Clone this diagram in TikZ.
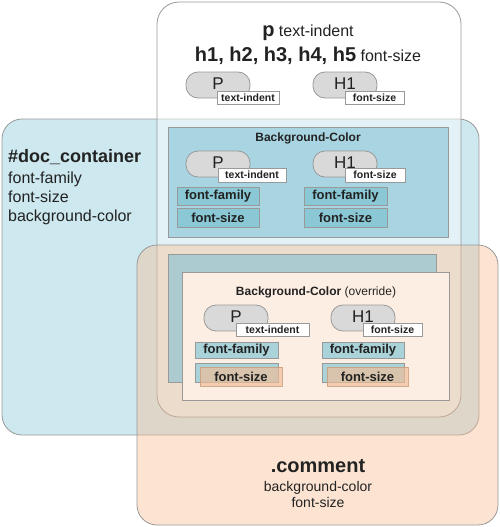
\documentclass[tikz,border=0pt]{standalone}
\usepackage{fontspec}
\setmainfont{Liberation Sans}
\definecolor{bordergray}{HTML}{999999}
\definecolor{docblue}{HTML}{CDE8EF}
\definecolor{bgblue}{HTML}{A8D5E1}
\definecolor{ffblue}{HTML}{8BC8D6}
\definecolor{pillgray}{HTML}{D9D9D9}
\definecolor{commentorange}{HTML}{F9BB8E}
\definecolor{tealshadow}{HTML}{ACCBD0}
\definecolor{overridepeach}{HTML}{FDEEE3}
\definecolor{ffteal}{HTML}{A9D3D9}
\definecolor{fsorange}{HTML}{F0BD97}
\definecolor{fsorangeborder}{HTML}{C89A78}
\definecolor{textdark}{HTML}{222222}
\newcommand{\fsz}[1]{\fontsize{#1}{#1}\selectfont}
\begin{document}
\begin{tikzpicture}[x=1pt,y=-1pt,
  frame/.style={draw=bordergray, line width=0.8pt},
  pill/.style={draw=bordergray, line width=0.8pt, fill=pillgray, rounded corners=12pt,
    minimum width=64pt, minimum height=26pt, inner sep=0pt, text depth=3.5pt,
    font=\fsz{17}, text=textdark},
  tag/.style={draw=bordergray, line width=0.8pt, fill=white, inner sep=0pt,
    minimum height=13pt, font=\fsz{10.5}\bfseries, text=textdark},
  propbox/.style={draw=bordergray, line width=0.8pt, inner sep=0pt,
    font=\fsz{13}\bfseries, text=textdark},
  txt/.style={inner sep=0pt, anchor=base, text=textdark}
]
\useasboundingbox (0,0) rectangle (500,527);

% #doc_container box
\draw[frame, fill=docblue, rounded corners=20pt] (2,119) rectangle (479,435);
% p / h container
\draw[frame, fill=white, fill opacity=0.45, rounded corners=22pt] (157,2) rectangle (461,417);

% doc container text
\node[txt, anchor=base west] (dctitle) at (8,162) {\fsz{18}\bfseries \#doc\_container};
\node[txt, anchor=base west] (dcff) at (8,183) {\fsz{16}font-family};
\node[txt, anchor=base west] (dcfs) at (8,202) {\fsz{16}font-size};
\node[txt, anchor=base west] (dcbg) at (8,221) {\fsz{16}background-color};

% top texts
\node[txt] (ptitle) at (308,37) {{\fsz{20}\bfseries p}\fsz{16} text-indent};
\node[txt] (htitle) at (308,62) {{\fsz{20}\bfseries h1, h2, h3, h4, h5}\fsz{16} font-size};

% top pills
\node[pill] (topP) at (218,85) {P};
\node[tag, minimum width=62pt] (topPt) at (248,98) {text-indent};
\node[pill] (topH) at (345,85) {H1};
\node[tag, minimum width=59pt] (topHt) at (374.5,98) {font-size};

% middle background-color box
\draw[frame, fill=bgblue] (168,127) rectangle (448,237);
\node[txt] (midtitle) at (308,141) {\fsz{12}\bfseries Background-Color};
\node[pill] (midP) at (218,164) {P};
\node[tag, minimum width=68pt, minimum height=14pt] (midPt) at (252,175) {text-indent};
\node[pill] (midH) at (345,164) {H1};
\node[tag, minimum width=60pt, minimum height=14pt] (midHt) at (375,175) {font-size};
\node[propbox, fill=ffblue, minimum width=82pt, minimum height=18pt] (midPff) at (218,196) {font-family};
\node[propbox, fill=ffblue, minimum width=82pt, minimum height=19pt] (midPfs) at (218,217.5) {font-size};
\node[propbox, fill=ffblue, minimum width=83pt, minimum height=18pt] (midHff) at (345.5,196) {font-family};
\node[propbox, fill=ffblue, minimum width=83pt, minimum height=19pt] (midHfs) at (345.5,217.5) {font-size};

% comment box
\draw[draw=bordergray, line width=0.8pt, fill=commentorange, fill opacity=0.4, rounded corners=20pt] (137,245) rectangle (498,525);

% override area
\draw[frame, fill=tealshadow] (168,254) rectangle (436,382);
\draw[frame, fill=overridepeach] (182,272) rectangle (449,400);
\node[txt] (ovtitle) at (316,295) {{\fsz{12}\bfseries Background-Color}\fsz{12} (override)};
\node[pill] (ovP) at (236,318) {P};
\node[tag, minimum width=73pt] (ovPt) at (272.5,329.5) {text-indent};
\node[pill] (ovH) at (363,318) {H1};
\node[tag, minimum width=59pt] (ovHt) at (392.5,329.5) {font-size};
\node[propbox, fill=ffteal, minimum width=83pt, minimum height=16pt] (ovPff) at (236.5,350) {font-family};
\node[propbox, fill=ffteal, minimum width=82pt, minimum height=16pt] (ovHff) at (363,350) {font-family};
\node[propbox, fill=ffteal, minimum width=83pt, minimum height=19pt] (ovPfsb) at (236.5,372.5) {};
\node[propbox, fill=ffteal, minimum width=82pt, minimum height=19pt] (ovHfsb) at (363,372.5) {};
\node[propbox, draw=fsorangeborder, fill=fsorange, fill opacity=0.67, draw opacity=0.8, text opacity=1, minimum width=82pt, minimum height=19pt] (ovPfs) at (241,376.5) {font-size};
\node[propbox, draw=fsorangeborder, fill=fsorange, fill opacity=0.67, draw opacity=0.8, text opacity=1, minimum width=81pt, minimum height=19pt] (ovHfs) at (367.5,376.5) {font-size};

% comment texts
\node[txt] (cmtitle) at (318,472) {\fsz{20}\bfseries .comment};
\node[txt] (cmbg) at (318,491) {\fsz{14}background-color};
\node[txt] (cmfs) at (318,507) {\fsz{14}font-size};
\end{tikzpicture}
\end{document}
